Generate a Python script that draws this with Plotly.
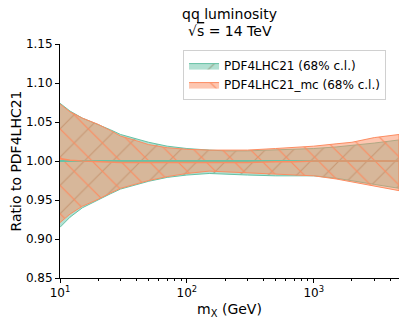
import plotly.graph_objects as go

# invariant mass points (GeV)
mx = [10, 12, 15, 20, 25, 30, 40, 50, 70, 100, 150, 200, 300, 500, 700, 1000, 1500, 2000, 3000, 4700]

# PDF4LHC21 (68% c.l.) band
pdf_up = [1.074, 1.064, 1.055, 1.047, 1.040, 1.034, 1.028, 1.024, 1.019, 1.016, 1.014, 1.013, 1.013,
          1.014, 1.015, 1.016, 1.018, 1.020, 1.023, 1.027]
pdf_lo = [0.915, 0.928, 0.940, 0.950, 0.958, 0.964, 0.970, 0.974, 0.979, 0.982, 0.984, 0.983, 0.982,
          0.981, 0.981, 0.981, 0.978, 0.975, 0.970, 0.965]
pdf_c = [1.0] * len(mx)

# PDF4LHC21_mc (68% c.l.) band
mc_up = [1.073, 1.063, 1.055, 1.047, 1.039, 1.032, 1.026, 1.021, 1.017, 1.015, 1.014, 1.014, 1.014,
         1.016, 1.017, 1.019, 1.022, 1.024, 1.030, 1.034]
mc_lo = [0.921, 0.932, 0.942, 0.951, 0.959, 0.965, 0.971, 0.975, 0.980, 0.984, 0.987, 0.986, 0.985,
         0.983, 0.982, 0.981, 0.977, 0.973, 0.968, 0.962]
mc_c = [1.003, 1.001, 1.000, 0.999, 0.998, 0.998, 0.998, 0.998, 0.998, 0.998, 0.998, 0.998, 0.998,
        0.999, 0.999, 1.000, 1.000, 1.000, 1.000, 1.000]

GREEN = "#66c2a5"
ORANGE = "#fc8d62"

fig = go.Figure()


def band(up, lo, name, color, fill, hatch, hatch_col):
    fig.add_trace(go.Scatter(
        x=mx + mx[::-1], y=up + lo[::-1], fill="toself", name=name,
        mode="lines", line=dict(color=color, width=1),
        fillcolor=fill,
        fillpattern=dict(shape=hatch, size=20, solidity=0.06, fgcolor=hatch_col, bgcolor=fill, fillmode="replace"),
        hoverinfo="skip",
    ))


band(pdf_up, pdf_lo, "PDF4LHC21 (68% c.l.)", GREEN, "rgba(102,194,165,0.5)", "/", "rgba(140,150,120,0.8)")
band(mc_up, mc_lo, "PDF4LHC21_mc (68% c.l.)", ORANGE, "rgba(252,141,98,0.5)", "\\", "rgba(252,141,98,1)")

fig.add_trace(go.Scatter(x=mx, y=pdf_c, mode="lines", line=dict(color=GREEN, width=2.2), showlegend=False))
fig.add_trace(go.Scatter(x=mx, y=mc_c, mode="lines", line=dict(color=ORANGE, width=1.6), showlegend=False))

# title lines as annotations above the plot
fig.add_annotation(text="qq luminosity", xref="paper", yref="paper", x=0.5, y=1.128,
                   xanchor="center", yanchor="middle", showarrow=False, font=dict(size=14))
fig.add_annotation(text="√<span style='text-decoration:overline'>s</span> = 14 TeV", xref="paper", yref="paper",
                   x=0.5, y=1.056, xanchor="center", yanchor="middle", showarrow=False, font=dict(size=14))

fig.update_layout(
    width=407, height=324,
    margin=dict(l=52, r=16, t=36, b=54),
    paper_bgcolor="white", plot_bgcolor="white",
    font=dict(family="DejaVu Sans", size=12, color="black"),
    showlegend=True,
    legend=dict(x=0.363, y=0.974, xanchor="left", yanchor="top", bgcolor="white",
                bordercolor="#d0d0d0", borderwidth=1, font=dict(size=12), tracegroupgap=2),
    xaxis=dict(type="log", range=[1, 3.672], showline=True, linecolor="black", linewidth=1,
               ticks="outside", ticklen=4, tickcolor="black", showgrid=False, zeroline=False,
               tickvals=[10, 100, 1000], ticktext=["10<sup>1</sup>", "10<sup>2</sup>", "10<sup>3</sup>"],
               minor=dict(ticks="outside", ticklen=2, tickcolor="black", dtick="D1", showgrid=False),
               title=dict(text="m<sub>X</sub> (GeV)", standoff=4), automargin=False),
    yaxis=dict(range=[0.85, 1.15], dtick=0.05, tickformat=".2f", showline=True, linecolor="black",
               linewidth=1, ticks="outside", ticklen=4, tickcolor="black", showgrid=False, zeroline=False,
               title=dict(text="Ratio to PDF4LHC21", standoff=6), automargin=False),
)

fig.write_html("out.html")
